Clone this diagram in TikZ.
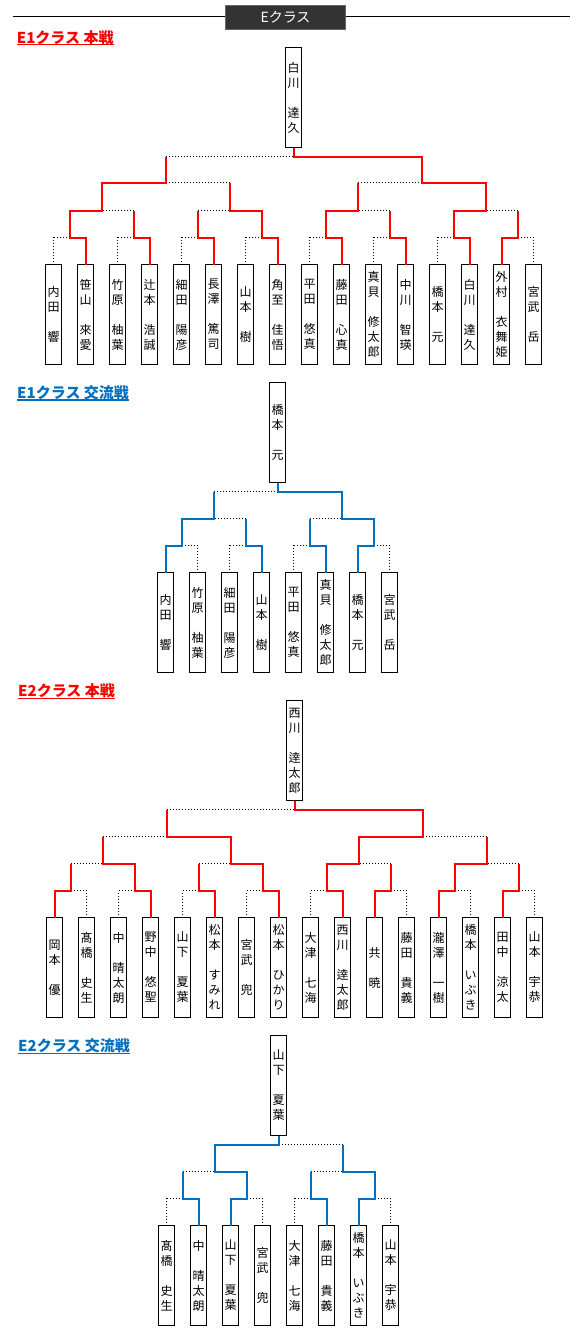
\documentclass[tikz,border=0pt]{standalone}
\usepackage{fontspec}
\newfontfamily\jp{Noto Sans CJK JP}
\newcommand\headul[1]{\setbox0\hbox{#1}\rlap{\rule[-2.1pt]{\wd0}{1.2pt}}\box0}
\usetikzlibrary{positioning}
\definecolor{honred}{HTML}{FF0000}
\definecolor{koublue}{HTML}{0070C0}
\definecolor{ttlgray}{HTML}{333333}

\begin{document}
\begin{tikzpicture}[x=1pt, y=-1pt, node distance=16pt,
  pl/.style={draw, line width=1pt, minimum width=16pt, minimum height=100pt, inner sep=0pt, outer sep=0pt, align=center, font=\jp\fontsize{12}{15}\selectfont},
  head/.style={anchor=base west, inner sep=0pt, font=\jp\bfseries\fontsize{15}{18}\selectfont},
  hon/.style={draw=honred, line width=2pt},
  kou/.style={draw=koublue, line width=2pt},
  lost/.style={dash pattern=on 1pt off 2pt, line width=1pt}]
\useasboundingbox (0,0) rectangle (570,1331);
% title bar
\coordinate (rl) at (13.3,16.5); \coordinate (rr) at (570,16.5);
\draw[line width=1pt] (rl) -- (rr);
\node[fill=ttlgray, draw=black!60, minimum width=120pt, minimum height=24pt, text=white, font=\jp\fontsize{14}{16}\selectfont] (ttl) at (285.5,17.5) {Eクラス};
% E1 main
\node[head, text=honred] (ha) at (16.7,43.2) {\headul{E1クラス 本戦}};
\node[pl] (a1) at (53.5,314.5) {内\\田\\　\\響};
\node[pl, right=of a1] (a2) {笹\\山\\　\\來\\愛};
\node[pl, right=of a2] (a3) {竹\\原\\　\\柚\\葉};
\node[pl, right=of a3] (a4) {辻\\本\\　\\浩\\誠};
\node[pl, right=of a4] (a5) {細\\田\\　\\陽\\彦};
\node[pl, right=of a5] (a6) {長\\澤\\　\\篤\\司};
\node[pl, right=of a6] (a7) {山\\本\\　\\樹};
\node[pl, right=of a7] (a8) {角\\至\\　\\佳\\悟};
\node[pl, right=of a8] (a9) {平\\田\\　\\悠\\真};
\node[pl, right=of a9] (a10) {藤\\田\\　\\心\\真};
\node[pl, right=of a10] (a11) {真\\貝\\　\\修\\太\\郎};
\node[pl, right=of a11] (a12) {中\\川\\　\\智\\瑛};
\node[pl, right=of a12] (a13) {橋\\本\\　\\元};
\node[pl, right=of a13] (a14) {白\\川\\　\\達\\久};
\node[pl, right=of a14] (a15) {外\\村\\　\\衣\\舞\\姫};
\node[pl, right=of a15] (a16) {宮\\武\\　\\岳};
\coordinate (ar11) at (69.5,237.5); \coordinate (ar12) at (133.5,237.5); \coordinate (ar13) at (197.5,237.5); \coordinate (ar14) at (261.5,237.5);
\coordinate (ar15) at (325.5,237.5); \coordinate (ar16) at (389.5,237.5); \coordinate (ar17) at (453.5,237.5); \coordinate (ar18) at (517.5,237.5);
\coordinate (ar21) at (101.5,210.5); \coordinate (ar22) at (229.5,210.5); \coordinate (ar23) at (357.5,210.5); \coordinate (ar24) at (485.5,210.5);
\coordinate (ar31) at (165.5,182.5); \coordinate (ar32) at (421.5,182.5); \coordinate (ar4) at (293.5,156.5);
\node[pl, above=9pt of ar4] (aw) {白\\川\\　\\達\\久};
\draw[lost] (a1) |- (ar11); \draw[lost] (a3) |- (ar12); \draw[lost] (a5) |- (ar13); \draw[lost] (a7) |- (ar14);
\draw[lost] (a9) |- (ar15); \draw[lost] (a11) |- (ar16); \draw[lost] (a13) |- (ar17); \draw[lost] (a16) |- (ar18);
\draw[lost] (ar12 |- ar21) -- (ar21); \draw[lost] (ar13 |- ar22) -- (ar22); \draw[lost] (ar16 |- ar23) -- (ar23); \draw[lost] (ar18 |- ar24) -- (ar24);
\draw[lost] (ar22 |- ar31) -- (ar31); \draw[lost] (ar23 |- ar32) -- (ar32); \draw[lost] (ar31 |- ar4) -- (ar4);
\draw[hon] (a2) |- (ar11) |- (ar21) |- (ar31) -- (ar31 |- ar4);
\draw[hon] (a4) |- (ar12) -- (ar12 |- ar21); \draw[hon] (a6) |- (ar13) -- (ar13 |- ar22);
\draw[hon] (a8) |- (ar14) |- (ar22) -- (ar22 |- ar31);
\draw[hon] (a10) |- (ar15) |- (ar23) -- (ar23 |- ar32); \draw[hon] (a12) |- (ar16) -- (ar16 |- ar23);
\draw[hon] (a14) |- (ar17) |- (ar24) |- (ar32) |- (ar4) -- (aw);
\draw[hon] (a15) |- (ar18) -- (ar18 |- ar24);
% E1 exchange
\node[head, text=koublue] (hb) at (17,398.5) {\headul{E1クラス 交流戦}};
\node[pl] (b1) at (165.5,622.5) {内\\田\\　\\響};
\node[pl, right=of b1] (b2) {竹\\原\\　\\柚\\葉};
\node[pl, right=of b2] (b3) {細\\田\\　\\陽\\彦};
\node[pl, right=of b3] (b4) {山\\本\\　\\樹};
\node[pl, right=of b4] (b5) {平\\田\\　\\悠\\真};
\node[pl, right=of b5] (b6) {真\\貝\\　\\修\\太\\郎};
\node[pl, right=of b6] (b7) {橋\\本\\　\\元};
\node[pl, right=of b7] (b8) {宮\\武\\　\\岳};
\coordinate (br11) at (181.5,545.5); \coordinate (br12) at (245.5,545.5); \coordinate (br13) at (309.5,545.5); \coordinate (br14) at (373.5,545.5);
\coordinate (br21) at (213.5,518.5); \coordinate (br22) at (341.5,518.5); \coordinate (br3) at (277.5,491.5);
\node[pl, above=9pt of br3] (bw) {橋\\本\\　\\元};
\draw[lost] (b2) |- (br11); \draw[lost] (b3) |- (br12); \draw[lost] (b5) |- (br13); \draw[lost] (b8) |- (br14);
\draw[lost] (br12 |- br21) -- (br21); \draw[lost] (br13 |- br22) -- (br22); \draw[lost] (br21 |- br3) -- (br3);
\draw[kou] (b1) |- (br11) |- (br21) -- (br21 |- br3);
\draw[kou] (b4) |- (br12) -- (br12 |- br21); \draw[kou] (b6) |- (br13) -- (br13 |- br22);
\draw[kou] (b7) |- (br14) |- (br22) |- (br3) -- (bw);
% E2 main
\node[head, text=honred] (hc) at (18,696.8) {\headul{E2クラス 本戦}};
\node[pl] (c1) at (54.5,967.5) {岡\\本\\　\\優};
\node[pl, right=of c1] (c2) {髙\\橋\\　\\史\\生};
\node[pl, right=of c2] (c3) {中\\　\\晴\\太\\朗};
\node[pl, right=of c3] (c4) {野\\中\\　\\悠\\聖};
\node[pl, right=of c4] (c5) {山\\下\\　\\夏\\葉};
\node[pl, right=of c5] (c6) {松\\本\\　\\す\\み\\れ};
\node[pl, right=of c6] (c7) {宮\\武\\　\\兜};
\node[pl, right=of c7] (c8) {松\\本\\　\\ひ\\か\\り};
\node[pl, right=of c8] (c9) {大\\津\\　\\七\\海};
\node[pl, right=of c9] (c10) {西\\川\\　\\逹\\太\\郎};
\node[pl, right=of c10] (c11) {共\\　\\暁};
\node[pl, right=of c11] (c12) {藤\\田\\　\\貴\\義};
\node[pl, right=of c12] (c13) {瀧\\澤\\　\\一\\樹};
\node[pl, right=of c13] (c14) {橋\\本\\　\\い\\ぶ\\き};
\node[pl, right=of c14] (c15) {田\\中\\　\\涼\\太};
\node[pl, right=of c15] (c16) {山\\本\\　\\宇\\恭};
\coordinate (cr11) at (70.5,890.5); \coordinate (cr12) at (134.5,890.5); \coordinate (cr13) at (198.5,890.5); \coordinate (cr14) at (262.5,890.5);
\coordinate (cr15) at (326.5,890.5); \coordinate (cr16) at (390.5,890.5); \coordinate (cr17) at (454.5,890.5); \coordinate (cr18) at (518.5,890.5);
\coordinate (cr21) at (102.5,863.5); \coordinate (cr22) at (230.5,863.5); \coordinate (cr23) at (358.5,863.5); \coordinate (cr24) at (486.5,863.5);
\coordinate (cr31) at (166.5,836.5); \coordinate (cr32) at (422.5,836.5); \coordinate (cr4) at (294.5,809.5);
\node[pl, above=9pt of cr4] (cw) {西\\川\\　\\逹\\太\\郎};
\draw[lost] (c2) |- (cr11); \draw[lost] (c3) |- (cr12); \draw[lost] (c5) |- (cr13); \draw[lost] (c7) |- (cr14);
\draw[lost] (c9) |- (cr15); \draw[lost] (c12) |- (cr16); \draw[lost] (c14) |- (cr17); \draw[lost] (c16) |- (cr18);
\draw[lost] (cr11 |- cr21) -- (cr21); \draw[lost] (cr13 |- cr22) -- (cr22); \draw[lost] (cr16 |- cr23) -- (cr23); \draw[lost] (cr18 |- cr24) -- (cr24);
\draw[lost] (cr21 |- cr31) -- (cr31); \draw[lost] (cr24 |- cr32) -- (cr32); \draw[lost] (cr31 |- cr4) -- (cr4);
\draw[hon] (c1) |- (cr11) -- (cr11 |- cr21);
\draw[hon] (c4) |- (cr12) |- (cr21) -- (cr21 |- cr31); \draw[hon] (c6) |- (cr13) -- (cr13 |- cr22);
\draw[hon] (c8) |- (cr14) |- (cr22) |- (cr31) -- (cr31 |- cr4);
\draw[hon] (c10) |- (cr15) |- (cr23) |- (cr32) |- (cr4) -- (cw);
\draw[hon] (c11) |- (cr16) -- (cr16 |- cr23);
\draw[hon] (c13) |- (cr17) |- (cr24) -- (cr24 |- cr32); \draw[hon] (c15) |- (cr18) -- (cr18 |- cr24);
% E2 exchange
\node[head, text=koublue] (hd) at (18,1051.8) {\headul{E2クラス 交流戦}};
\node[pl] (d1) at (166.5,1275.5) {髙\\橋\\　\\史\\生};
\node[pl, right=of d1] (d2) {中\\　\\晴\\太\\朗};
\node[pl, right=of d2] (d3) {山\\下\\　\\夏\\葉};
\node[pl, right=of d3] (d4) {宮\\武\\　\\兜};
\node[pl, right=of d4] (d5) {大\\津\\　\\七\\海};
\node[pl, right=of d5] (d6) {藤\\田\\　\\貴\\義};
\node[pl, right=of d6] (d7) {橋\\本\\　\\い\\ぶ\\き};
\node[pl, right=of d7] (d8) {山\\本\\　\\宇\\恭};
\coordinate (dr11) at (182.5,1198.5); \coordinate (dr12) at (246.5,1198.5); \coordinate (dr13) at (310.5,1198.5); \coordinate (dr14) at (374.5,1198.5);
\coordinate (dr21) at (214.5,1171.5); \coordinate (dr22) at (342.5,1171.5); \coordinate (dr3) at (278.5,1144.5);
\node[pl, above=9pt of dr3] (dw) {山\\下\\　\\夏\\葉};
\draw[lost] (d1) |- (dr11); \draw[lost] (d4) |- (dr12); \draw[lost] (d5) |- (dr13); \draw[lost] (d8) |- (dr14);
\draw[lost] (dr11 |- dr21) -- (dr21); \draw[lost] (dr13 |- dr22) -- (dr22); \draw[lost] (dr22 |- dr3) -- (dr3);
\draw[kou] (d2) |- (dr11) -- (dr11 |- dr21);
\draw[kou] (d3) |- (dr12) |- (dr21) |- (dr3) -- (dw);
\draw[kou] (d6) |- (dr13) -- (dr13 |- dr22);
\draw[kou] (d7) |- (dr14) |- (dr22) -- (dr22 |- dr3);
\end{tikzpicture}
\end{document}
